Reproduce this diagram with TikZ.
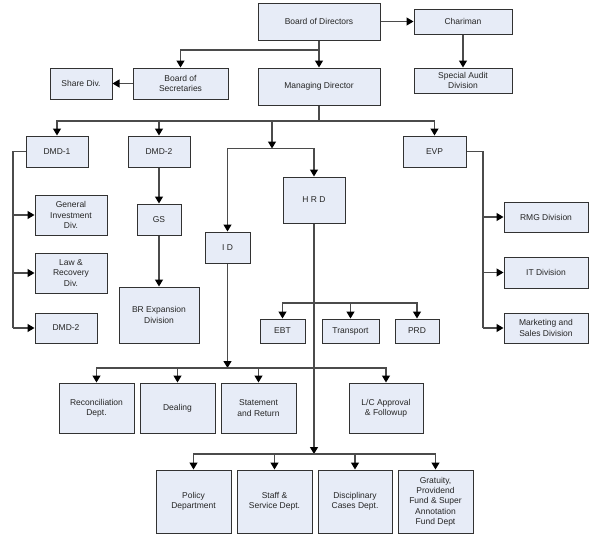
\documentclass[tikz,border=0pt]{standalone}
\usepackage{fontspec}
\setmainfont{Liberation Sans}
\usetikzlibrary{arrows.meta,calc}
\definecolor{boxfill}{RGB}{231,236,247}
\definecolor{boxline}{RGB}{50,50,50}
\definecolor{connline}{RGB}{75,75,75}
\begin{document}
\begin{tikzpicture}[x=1pt,y=-1pt,
  box/.style={draw=boxline,fill=boxfill,line width=1pt,rectangle,inner sep=1pt,align=center,
    font=\fontsize{8.5}{10.3}\selectfont,text=black!85},
  conn/.style={draw=connline,line width=1.2pt,-{Triangle[length=7pt,width=8pt,color=black]}},
  plain/.style={draw=connline,line width=1.2pt}]
\useasboundingbox (0,0) rectangle (593,538);
% top rows
\node[box,minimum width=122pt,minimum height=37pt] (bod) at (319,21.5) {Board of Directors};
\node[box,minimum width=98pt,minimum height=25pt] (ch) at (463,21.5) {Chariman};
\node[box,minimum width=98pt,minimum height=25pt] (sad) at (463,80.5) {Special Audit\\Division};
\node[box,minimum width=95pt,minimum height=31pt] (bos) at (180.5,83.5) {Board of\\Secretaries};
\node[box,minimum width=62pt,minimum height=31pt] (share) at (81,83.5) {Share Div.};
\node[box,minimum width=122pt,minimum height=37pt] (md) at (319,86.5) {Managing Director};
% second level
\node[box,minimum width=62pt,minimum height=31pt] (dmd1) at (57,151.5) {DMD-1};
\node[box,minimum width=62pt,minimum height=31pt] (dmd2) at (159,151.5) {DMD-2};
\node[box,minimum width=63pt,minimum height=31pt] (evp) at (434.5,151.5) {EVP};
\node[box,minimum width=62pt,minimum height=46pt] (hrd) at (314,200) {H R D};
\node[box,minimum width=45pt,minimum height=31pt] (id) at (227.5,247.5) {I D};
\node[box,minimum width=44pt,minimum height=31pt] (gs) at (159,219.5) {GS};
\node[box,minimum width=80pt,minimum height=56pt] (brx) at (159,315) {BR Expansion\\Division};
% DMD-1 children
\node[box,minimum width=72pt,minimum height=40pt] (gid) at (71,215) {General\\Investment\\Div.};
\node[box,minimum width=72pt,minimum height=40pt] (law) at (71,273) {Law \&\\Recovery\\Div.};
\node[box,minimum width=62pt,minimum height=30pt] (dmd2b) at (66,328) {DMD-2};
% EVP children
\node[box,minimum width=84pt,minimum height=30pt] (rmg) at (546,217) {RMG Division};
\node[box,minimum width=84pt,minimum height=31pt] (itd) at (546,272.5) {IT Division};
\node[box,minimum width=84pt,minimum height=30pt] (mkt) at (546,328) {Marketing and\\Sales Division};
% HRD small children
\node[box,minimum width=45pt,minimum height=24pt] (ebt) at (282.5,331) {EBT};
\node[box,minimum width=57pt,minimum height=24pt] (tr) at (350.5,331) {Transport};
\node[box,minimum width=44pt,minimum height=24pt] (prd) at (417,331) {PRD};
% ID children
\node[box,minimum width=75pt,minimum height=50pt] (rec) at (96.5,408) {Reconciliation\\Dept.};
\node[box,minimum width=75pt,minimum height=50pt] (deal) at (177.5,408) {Dealing};
\node[box,minimum width=75pt,minimum height=50pt] (stmt) at (258.5,408) {Statement\\and Return};
\node[box,minimum width=74pt,minimum height=50pt] (lc) at (386,408) {L/C Approval\\\& Followup};
% HRD bottom children
\node[box,minimum width=75pt,minimum height=63pt] (pol) at (193.5,501.5) {Policy\\Department};
\node[box,minimum width=75pt,minimum height=63pt] (staff) at (274.5,501.5) {Staff \&\\Service Dept.};
\node[box,minimum width=74pt,minimum height=63pt] (disc) at (355,501.5) {Disciplinary\\Cases Dept.};
\node[box,minimum width=75pt,minimum height=63pt] (grat) at (435.5,501.5) {Gratuity,\\Providend\\Fund \& Super\\Annotation\\Fund Dept};
% junction coordinates
\coordinate (bj) at (319,50);
\coordinate (mdj) at (319,121);
\coordinate (hb) at (272,148.5);
\coordinate (d1x) at (13,0);
\coordinate (evx) at (483,0);
\coordinate (ej) at (314,303);
\coordinate (ij) at (227.5,368);
\coordinate (hj) at (314,454);
% connectors
\draw[conn] (bod.east) -- (ch.west);
\draw[conn] (ch.south) -- (sad.north);
\draw[conn] (bod.south) -- (md.north);
\draw[conn] (bj) -| (bos.north);
\draw[conn] (bos.west) -- (share.east);
\draw[plain] (md.south) -- (mdj);
\draw[conn] (mdj) -| (dmd1.north);
\draw[conn] (mdj) -| (dmd2.north);
\draw[conn] (mdj) -| (evp.north);
\draw[conn] (hb |- mdj) -- (hb);
\draw[conn] (hb) -| (hrd.north);
\draw[conn] (hb) -| (id.north);
\draw[conn] (dmd2.south) -- (gs.north);
\draw[conn] (gs.south) -- (brx.north);
\draw[plain] (dmd1.west) -| (d1x |- dmd2b.west);
\draw[conn] (d1x |- gid.west) -- (gid.west);
\draw[conn] (d1x |- law.west) -- (law.west);
\draw[conn] (d1x |- dmd2b.west) -- (dmd2b.west);
\draw[plain] (evp.east) -| (evx |- mkt.west);
\draw[conn] (evx |- rmg.west) -- (rmg.west);
\draw[conn] (evx |- itd.west) -- (itd.west);
\draw[conn] (evx |- mkt.west) -- (mkt.west);
\draw[conn] (hrd.south) -- (hj);
\draw[conn] (ej) -| (ebt.north);
\draw[conn] (ej) -| (tr.north);
\draw[conn] (ej) -| (prd.north);
\draw[conn] (id.south) -- (ij);
\draw[conn] (ij) -| (rec.north);
\draw[conn] (ij) -| (deal.north);
\draw[conn] (ij) -| (stmt.north);
\draw[conn] (ij) -| (lc.north);
\draw[conn] (hj) -| (pol.north);
\draw[conn] (hj) -| (staff.north);
\draw[conn] (hj) -| (disc.north);
\draw[conn] (hj) -| (grat.north);
\end{tikzpicture}
\end{document}
